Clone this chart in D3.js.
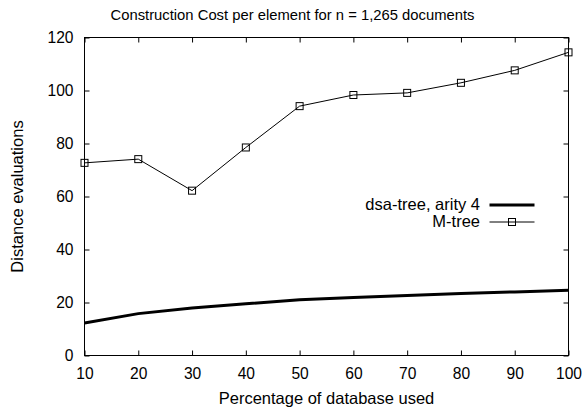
<!DOCTYPE html>
<html>
<head>
<meta charset="utf-8">
<script src="https://cdn.jsdelivr.net/npm/d3@7"></script>
<style>
  html, body { margin: 0; padding: 0; background: #fff; }
  svg { display: block; font-family: "Liberation Sans", Arial, Helvetica, sans-serif; }
</style>
</head>
<body>
<svg id="chart" width="585" height="410"></svg>
<script>
// Percentage of the database used (x values)
const percentages = [10, 20, 30, 40, 50, 60, 70, 80, 90, 100];
// Distance evaluations per inserted element
const dsaTree = [12.3, 15.8, 17.9, 19.5, 21.0, 21.9, 22.6, 23.4, 24.0, 24.6];
const mTree = [72.7, 74.1, 62.2, 78.5, 94.1, 98.3, 99.1, 102.9, 107.6, 114.4];
const xTicks = [10, 20, 30, 40, 50, 60, 70, 80, 90, 100];
const yTicks = [0, 20, 40, 60, 80, 100, 120];
const seriesNames = ["dsa-tree, arity 4", "M-tree"];

const svg = d3.select("#chart");
const margin = { left: 84.5, right: 16.5, top: 37.5, bottom: 54.5 };
const W = 585, H = 410;

const x = d3.scaleLinear().domain([10, 100]).range([margin.left, W - margin.right]);
const y = d3.scaleLinear().domain([0, 120]).range([H - margin.bottom, margin.top]);

const tickLen = 5;
const fontTick = 15.6;
const fontLabel = 16.5;

// Frame
svg.append("rect")
  .attr("x", x(10)).attr("y", y(120))
  .attr("width", x(100) - x(10)).attr("height", y(0) - y(120))
  .attr("fill", "none").attr("stroke", "#000").attr("stroke-width", 1);

// Bottom and left axes with labels, ticks pointing inward
const axisB = svg.append("g").attr("transform", `translate(0,${y(0)})`)
  .call(d3.axisBottom(x).tickValues(xTicks).tickSizeInner(-tickLen).tickSizeOuter(0).tickPadding(12));
const axisL = svg.append("g").attr("transform", `translate(${x(10)},0)`)
  .call(d3.axisLeft(y).tickValues(yTicks).tickSizeInner(-tickLen).tickSizeOuter(0).tickPadding(11));
// Mirrored ticks on top and right
const axisT = svg.append("g").attr("transform", `translate(0,${y(120)})`)
  .call(d3.axisTop(x).tickValues(xTicks).tickSizeInner(-tickLen).tickSizeOuter(0).tickFormat(""));
const axisR = svg.append("g").attr("transform", `translate(${x(100)},0)`)
  .call(d3.axisRight(y).tickValues(yTicks).tickSizeInner(-tickLen).tickSizeOuter(0).tickFormat(""));

[axisB, axisL, axisT, axisR].forEach(g => {
  g.select(".domain").remove();
  g.selectAll("line").attr("stroke", "#000");
  g.selectAll("text").attr("fill", "#000").attr("font-size", fontTick)
    .attr("font-family", "Liberation Sans, Arial, sans-serif");
});

// Series lines
const line = d3.line().x((d, i) => x(percentages[i])).y(d => y(d));

svg.append("path").datum(dsaTree)
  .attr("d", line).attr("fill", "none").attr("stroke", "#000").attr("stroke-width", 3);

svg.append("path").datum(mTree)
  .attr("d", line).attr("fill", "none").attr("stroke", "#000").attr("stroke-width", 1);

const markerSize = 7;
svg.append("g").selectAll("rect").data(mTree).join("rect")
  .attr("x", (d, i) => x(percentages[i]) - markerSize / 2)
  .attr("y", d => y(d) - markerSize / 2)
  .attr("width", markerSize).attr("height", markerSize)
  .attr("fill", "none").attr("stroke", "#000").attr("stroke-width", 1);

// Legend
const legend = svg.append("g");
const legX1 = 489.5, legX2 = 534.5, legText = 480;
const legRows = [205, 222];
legend.append("text").attr("x", legText).attr("y", legRows[0] + 4.5)
  .attr("text-anchor", "end").attr("font-size", fontLabel).text(seriesNames[0]);
legend.append("line").attr("x1", legX1).attr("x2", legX2)
  .attr("y1", legRows[0]).attr("y2", legRows[0])
  .attr("stroke", "#000").attr("stroke-width", 3);
legend.append("text").attr("x", legText).attr("y", legRows[1] + 4.5)
  .attr("text-anchor", "end").attr("font-size", fontLabel).text(seriesNames[1]);
legend.append("line").attr("x1", legX1).attr("x2", legX2)
  .attr("y1", legRows[1]).attr("y2", legRows[1])
  .attr("stroke", "#000").attr("stroke-width", 1);
legend.append("rect")
  .attr("x", (legX1 + legX2) / 2 - markerSize / 2).attr("y", legRows[1] - markerSize / 2)
  .attr("width", markerSize).attr("height", markerSize)
  .attr("fill", "none").attr("stroke", "#000");

// Titles: chart title centred on the canvas, axis titles on the plot area
svg.append("text").attr("x", W / 2).attr("y", 20)
  .attr("text-anchor", "middle").attr("font-size", 14.8).text("Construction Cost per element for n = 1,265 documents");
svg.append("text").attr("x", (x(10) + x(100)) / 2).attr("y", 404)
  .attr("text-anchor", "middle").attr("font-size", fontLabel).text("Percentage of database used");
svg.append("text")
  .attr("transform", `translate(23,${(y(0) + y(120)) / 2}) rotate(-90)`)
  .attr("text-anchor", "middle").attr("font-size", fontLabel).text("Distance evaluations");
</script>
</body>
</html>
